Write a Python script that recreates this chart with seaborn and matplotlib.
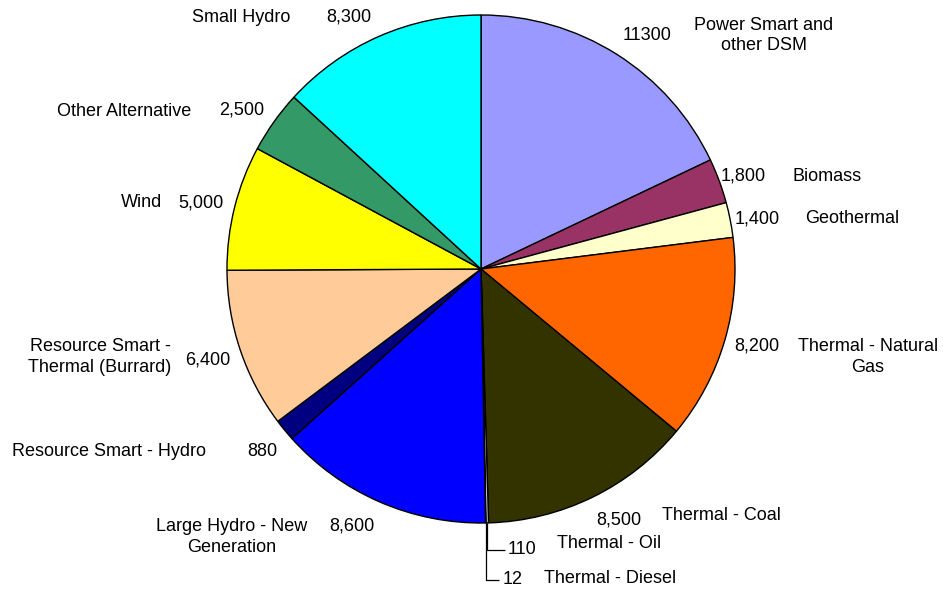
import numpy as np
import matplotlib
matplotlib.use("Agg")
import matplotlib.pyplot as plt
import seaborn as sns

# Energy sources, clockwise from twelve o'clock
sources = [
    "Power Smart and\nother DSM", "Biomass", "Geothermal", "Thermal - Natural\nGas",
    "Thermal - Coal", "Thermal - Oil", "Thermal - Diesel", "Large Hydro - New\nGeneration",
    "Resource Smart - Hydro", "Resource Smart -\nThermal (Burrard)", "Wind",
    "Other Alternative", "Small Hydro",
]
energy = [11300, 1800, 1400, 8200, 8500, 110, 12, 8600, 880, 6400, 5000, 2500, 8300]
thousands_sep = [False, True, True, True, True, True, True, True, True, True, True, True, True]
colors = [
    "#9999FF", "#993366", "#FFFFCC", "#FF6600", "#333300", "#C0C0C0", "#808080",
    "#0000FF", "#000080", "#FFCC99", "#FFFF00", "#339966", "#00FFFF",
]

# Label anchors in pie-radius units (name, value)
name_pos = [
    (1.114, 0.920), (1.362, 0.366), (1.461, 0.197), (1.524, -0.346),
    (0.945, -0.969), (0.504, -1.080), (0.508, -1.217), (-0.980, -1.055),
    (-1.465, -0.720), (-1.500, -0.346), (-1.335, 0.260), (-1.406, 0.622),
    (-0.945, 0.992),
]
value_pos = [
    (0.654, 0.921), (1.031, 0.366), (1.087, 0.197), (1.087, -0.303),
    (0.543, -0.988), (0.161, -1.106), (0.126, -1.224), (-0.508, -1.012),
    (-0.862, -0.717), (-1.075, -0.358), (-1.102, 0.260), (-0.941, 0.626),
    (-0.520, 0.992),
]
leader_slices = {5: 0.094, 6: 0.071}  # slice index -> x end of elbow (pie units)

sns.set_theme(style="white")
plt.rcParams["font.family"] = ["Liberation Sans", "DejaVu Sans"]

fig = plt.figure(figsize=(9.43, 5.90), dpi=100)
fig.patch.set_facecolor("white")
ax = fig.add_axes([227 / 943, 1 - (269 + 254) / 590, 508 / 943, 508 / 590])
ax.set_facecolor("white")

ax.pie(
    energy, colors=colors, startangle=90, counterclock=False,
    wedgeprops=dict(edgecolor="black", linewidth=1.0), radius=1.0,
)
ax.set_xlim(-1, 1)
ax.set_ylim(-1, 1)
ax.set_aspect("equal")
ax.axis("off")

fs = 13
for i, (name, v) in enumerate(zip(sources, energy)):
    txt = f"{v:,}" if thousands_sep[i] else f"{v}"
    ax.text(*value_pos[i], txt, ha="center", va="center", fontsize=fs,
            color="black", clip_on=False)
    ax.text(*name_pos[i], name, ha="center", va="center", fontsize=fs,
            color="black", multialignment="center", linespacing=1.25,
            clip_on=False)

# Elbow leaders for the two very thin thermal slices
total = float(sum(energy))
cum = np.cumsum([0] + energy[:-1])
for idx, x_end in leader_slices.items():
    mid = (cum[idx] + energy[idx] / 2) / total * 2 * np.pi
    x0, y0 = np.sin(mid), np.cos(mid)
    y1 = value_pos[idx][1]
    ax.plot([x0, x0, x_end], [y0, y1, y1], color="black", lw=0.9,
            clip_on=False, solid_capstyle="butt")

fig.savefig("out.png", dpi=100, facecolor="white")
